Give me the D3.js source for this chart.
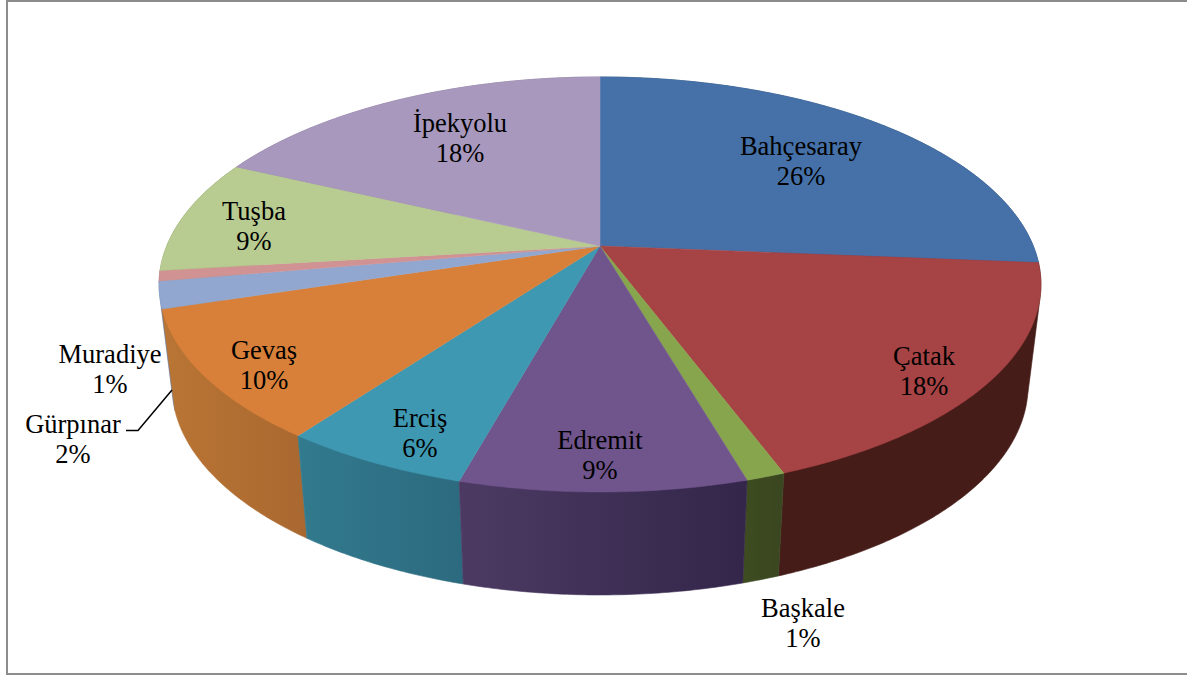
<!DOCTYPE html>
<html>
<head>
<meta charset="utf-8">
<script src="https://cdn.jsdelivr.net/npm/d3@7"></script>
<style>html,body{margin:0;padding:0;background:#fff;overflow:hidden}svg{display:block}</style>
</head>
<body>
<svg id="c" width="1187" height="675"></svg>
<script>
const categories = ["Bahçesaray","Çatak","Başkale","Edremit","Erciş","Gevaş","Gürpınar","Muradiye","Tuşba","İpekyolu"];
const shares = [26.3,18.0,1.2,8.8,5.8,10.1,2.1,0.8,8.9,18.0];
const percentLabels = ["26%","18%","1%","9%","6%","10%","2%","1%","9%","18%"];
const topColors = ["#4571a8","#a64344","#87a54c","#70548c","#3f98b1","#d8803a","#91a7d0","#d09292","#b8cb90","#a898bd"];
const sideLeft = ["#2c4a70","#451c18","#3e4c20","#4c3a63","#327a8e","#b97534","#6f80a0","#a07070","#8a9a6c","#7f7290"];
const sideRight = ["#2c4a70","#451c18","#3a4620","#33264a","#2c6a7f","#a96830","#6f80a0","#a07070","#8a9a6c","#7f7290"];

// layout, kept apart from the data
const labelCenters = [[801,146],[924,356],[803,608],[600,440],[420,418],[264,350],[73,424],[110,354],[254,211],[460,123]];
const lineGap = 29.5, fontSize = 26.5;
const leader = [[172,390],[138,430.5],[126,430.5]];
const K = 0.1855;
const topFace = {cx:600, y0:246, A:433.3, B:200.4};
const baseFace = {cx:600, y0:347.2, A:420.6, B:201.8};

const svg = d3.select("#c");
const defs = svg.append("defs");

// perspective-projected disc: unit-circle position to screen, via linear scales
function project(face, theta){
  const u = Math.sin(theta), v = Math.cos(theta), w = 1 + K*v;
  const sx = d3.scaleLinear().domain([-1,1]).range([face.cx-face.A, face.cx+face.A]);
  const sy = d3.scaleLinear().domain([-1,1]).range([face.y0+face.B, face.y0-face.B]);
  return [sx(u/w), sy(v/w)];
}
function arcPts(face, a0, a1){
  const n = Math.max(2, Math.ceil((a1-a0)/0.01));
  return d3.range(n+1).map(i => project(face, a0+(a1-a0)*i/n));
}
const line = d3.line();
const arcs = d3.pie().sort(null).value(d => d)(shares);

// frame
svg.append("path").attr("d", line([[1200,1],[7,1],[7,674],[1200,674]]))
  .attr("fill","none").attr("stroke","#8c8c8c").attr("stroke-width",2);

// side walls, back to front
const mid = d => (d.startAngle+d.endAngle)/2;
const order = d3.range(arcs.length).sort((a,b) => Math.cos(mid(arcs[b])) - Math.cos(mid(arcs[a])));

order.forEach(i => {
  const d = arcs[i];
  const t = arcPts(topFace, d.startAngle, d.endAngle);
  const b = arcPts(baseFace, d.startAngle, d.endAngle);
  const all = t.concat(b);
  const xs = all.map(p => p[0]);
  const id = "side"+i;
  const g = defs.append("linearGradient").attr("id",id).attr("gradientUnits","userSpaceOnUse")
    .attr("x1",d3.min(xs)).attr("x2",d3.max(xs)).attr("y1",0).attr("y2",0);
  g.append("stop").attr("offset",0).attr("stop-color",sideLeft[i]);
  g.append("stop").attr("offset",1).attr("stop-color",sideRight[i]);
  // the hull also fills the tangent run between the two rims at the silhouette
  svg.append("path").attr("d", line(d3.polygonHull(all))+"Z")
    .attr("fill","url(#"+id+")").attr("stroke","url(#"+id+")").attr("stroke-width",0.6);
});

// top face
arcs.forEach((d,i) => {
  const pts = [[topFace.cx, topFace.y0]].concat(arcPts(topFace, d.startAngle, d.endAngle));
  svg.append("path").attr("d", line(pts)+"Z")
    .attr("fill",topColors[i]).attr("stroke",topColors[i]).attr("stroke-width",0.5);
});

// labels
const lab = svg.append("g").attr("font-family","'Liberation Serif'").attr("font-size",fontSize)
  .attr("fill","#000").attr("text-anchor","middle");
categories.forEach((c,i) => {
  const [x,y] = labelCenters[i];
  lab.append("text").attr("x",x).attr("y",y+9).text(c);
  lab.append("text").attr("x",x).attr("y",y+9+lineGap).text(percentLabels[i]);
});
svg.append("path").attr("d", line(leader)).attr("fill","none").attr("stroke","#000").attr("stroke-width",1.5);
</script>
</body>
</html>
